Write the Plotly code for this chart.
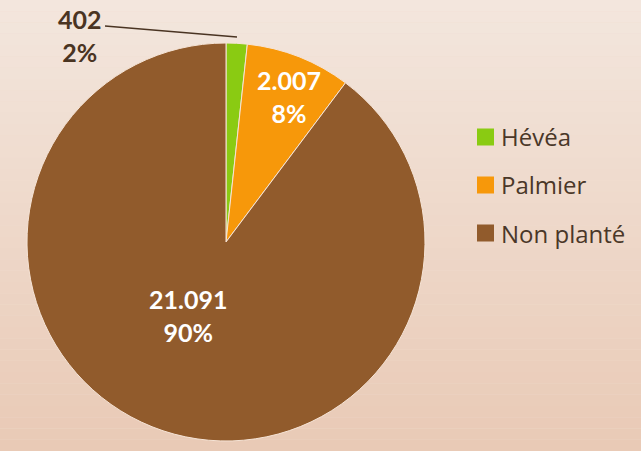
import plotly.graph_objects as go

W, H = 641, 451

labels = ["Hévéa", "Palmier", "Non planté"]
values = [402, 2007, 21091]
value_text = ["402", "2.007", "21.091"]
pct_text = ["2%", "8%", "90%"]
colors = ["#8acb12", "#f7980a", "#915b2c"]

# label block centres (pixels) and colours
label_pos = [(80, 35), (289, 96), (188, 315)]
label_color = ["#4a3422", "white", "white"]


def px_x(x):
    return x / W


def px_y(y):
    return 1 - y / H


fig = go.Figure(
    go.Pie(
        labels=labels,
        values=values,
        textinfo="none",
        marker=dict(colors=colors, line=dict(color="#f6e4d6", width=1)),
        sort=False,
        direction="clockwise",
        rotation=0,
        domain=dict(x=[px_x(27), px_x(425)], y=[px_y(441), px_y(43)]),
        showlegend=False,
        hoverinfo="label+value+percent",
    )
)

# background gradient (light top -> peachy bottom)
top, bot = (243, 230, 221), (233, 202, 182)
n = 40
shapes = []
for i in range(n):
    t = i / (n - 1)
    c = tuple(round(a + (b - a) * t) for a, b in zip(top, bot))
    shapes.append(dict(
        type="rect", xref="paper", yref="paper", layer="below",
        x0=0, x1=1, y0=1 - (i + 1) / n, y1=1 - i / n,
        fillcolor="rgb(%d,%d,%d)" % c, line=dict(width=0),
    ))

# leader line for the small slice
shapes.append(dict(
    type="line", xref="paper", yref="paper",
    x0=px_x(105), y0=px_y(26), x1=px_x(237), y1=px_y(37),
    line=dict(color="#4a3422", width=1.5),
))

annotations = []
for v, p, (lx, ly), lc in zip(value_text, pct_text, label_pos, label_color):
    annotations.append(dict(
        x=px_x(lx), y=px_y(ly), xref="paper", yref="paper",
        xanchor="center", yanchor="middle",
        text=f"<b>{v}<br>{p}</b>", showarrow=False,
        font=dict(family="Lato, sans-serif", size=25, color=lc),
    ))

# hand-built legend so the rows get the wide spacing of the original
for i, (lab, col) in enumerate(zip(labels, colors)):
    yc = 137 + 48 * i
    shapes.append(dict(
        type="rect", xref="paper", yref="paper",
        x0=px_x(477), x1=px_x(494), y0=px_y(yc + 8.5), y1=px_y(yc - 8.5),
        fillcolor=col, line=dict(width=0),
    ))
    annotations.append(dict(
        x=px_x(499), y=px_y(yc), xref="paper", yref="paper",
        xanchor="left", yanchor="middle", text=lab, showarrow=False,
        font=dict(family="Open Sans, sans-serif", size=24, color="#4a3728"),
    ))

fig.update_layout(
    width=W,
    height=H,
    margin=dict(l=0, r=0, t=0, b=0),
    paper_bgcolor="#f0dccf",
    plot_bgcolor="rgba(0,0,0,0)",
    shapes=shapes,
    annotations=annotations,
    showlegend=False,
)

fig.write_html(
    "out.html",
    config={"displayModeBar": False},
    post_script="document.body.style.margin='0';",
)
